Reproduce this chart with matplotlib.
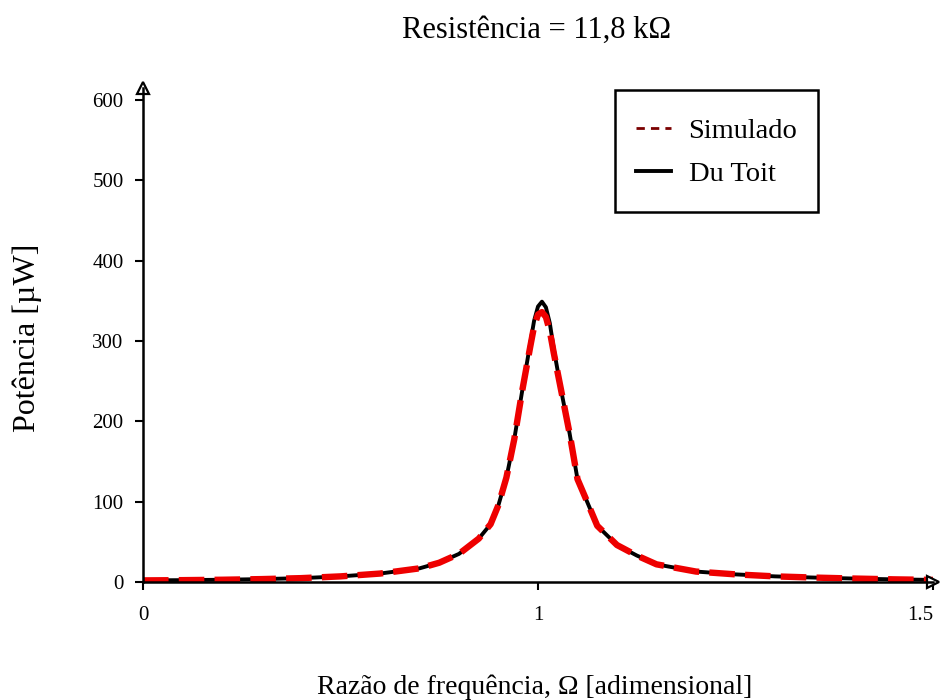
import numpy as np
import matplotlib.pyplot as plt
from matplotlib.lines import Line2D
from matplotlib.patches import Rectangle

plt.rcParams['font.family'] = ['Liberation Serif', 'DejaVu Serif']

# Frequency ratio (dimensionless) and harvested power in microwatts
omega = [0.0, 0.1, 0.2, 0.3, 0.4, 0.5, 0.6, 0.7, 0.75, 0.8, 0.85, 0.88, 0.9,
         0.92, 0.94, 0.96, 0.98, 0.99, 1.0, 1.005, 1.01, 1.015, 1.02, 1.03,
         1.04, 1.05, 1.06, 1.075, 1.1, 1.125, 1.15, 1.2, 1.25, 1.3, 1.35,
         1.4, 1.45, 1.5]
simulado = [2.0, 2.3, 2.8, 3.6, 4.8, 7.0, 10.5, 17.0, 24.0, 35.0, 54.0, 72.0,
            96.0, 130.0, 178.0, 238.0, 292.0, 318.0, 333.0, 336.0, 330.0,
            312.0, 285.0, 235.0, 185.0, 128.0, 105.0, 70.0, 46.0, 33.0, 22.0,
            13.0, 9.5, 7.0, 5.5, 4.3, 3.3, 2.6]
du_toit = [2.0, 2.3, 2.8, 3.6, 4.8, 7.0, 10.5, 17.0, 24.0, 35.0, 54.0, 72.0,
           96.0, 130.0, 178.0, 238.0, 296.0, 325.0, 343.0, 349.0, 342.0,
           322.0, 290.0, 235.0, 185.0, 128.0, 105.0, 70.0, 46.0, 33.0, 22.0,
           13.0, 9.5, 7.0, 5.5, 4.3, 3.3, 2.6]

x_ticks = [0, 1, 1.5]
x_tick_labels = ['0', '1', '1.5']
y_ticks = [0, 100, 200, 300, 400, 500, 600]


# axis above resonance is stretched: 0..1 and 1..1.5 get the same length
def fwd(x):
    x = np.asarray(x, dtype=float)
    return np.where(x <= 1, x, 2 * x - 1)


def inv(u):
    u = np.asarray(u, dtype=float)
    return np.where(u <= 1, u, (u + 1) / 2)


fig = plt.figure(figsize=(9.44, 7), dpi=100)
ax = fig.add_axes([143 / 944, 118 / 700, 790 / 944, 494 / 700])
ax.set_xscale('function', functions=(fwd, inv))

ax.plot(omega, du_toit, color='black', lw=2.8, solid_capstyle='butt')
ax.plot(omega, simulado, color='#ee0000', lw=4.6,
        linestyle=(0, (4.0, 1.6)), dash_capstyle='butt')

ax.set_xlim(0, 1.5)
ax.set_ylim(0, 615)
ax.set_xticks(x_ticks)
ax.set_xticklabels(x_tick_labels)
ax.set_yticks(y_ticks)
ax.tick_params(labelsize=15, width=1.5, length=6, pad=8, direction='out')
ax.tick_params(axis='x', pad=11)
# keep the last label inside the figure edge
ax.get_xticklabels()[-1].set_horizontalalignment('right')

for side in ['top', 'right']:
    ax.spines[side].set_visible(False)
for side in ['left', 'bottom']:
    ax.spines[side].set_linewidth(1.8)

# open arrow heads on the axes
ax.plot(0, 1.0, marker='^', ms=9, mfc='white', mec='black', mew=1.6,
        transform=ax.transAxes, clip_on=False)
ax.plot(1.0, 0, marker='>', ms=9, mfc='white', mec='black', mew=1.6,
        transform=ax.transAxes, clip_on=False)

# legend box drawn separately so its padding can be set freely
box = Rectangle((0.5975, 0.749), 0.2569, 0.247, transform=ax.transAxes,
                facecolor='white', edgecolor='black', lw=1.8, zorder=4)
ax.add_patch(box)
handles = [Line2D([], [], color='#7a0000', lw=2, linestyle=(0, (3, 2.2))),
           Line2D([], [], color='black', lw=2.8)]
leg = ax.legend(handles, ['Simulado', 'Du Toit'], loc='center',
                bbox_to_anchor=(0.726, 0.869), fontsize=20.5, frameon=False,
                handlelength=1.26, handletextpad=0.6, borderpad=0,
                labelspacing=0.6, borderaxespad=0)
leg.set_zorder(5)

fig.text(537 / 944, 1 - 30 / 700, 'Resistência = 11,8 kΩ', fontsize=22,
         ha='center', va='center')
fig.text(535 / 944, 1 - 687 / 700, 'Razão de frequência, Ω [adimensional]',
         fontsize=20, ha='center', va='center')
fig.text(27 / 944, 1 - 338 / 700, 'Potência [µW]', fontsize=23,
         ha='center', va='center', rotation=90)

fig.savefig('out.png', dpi=100)
